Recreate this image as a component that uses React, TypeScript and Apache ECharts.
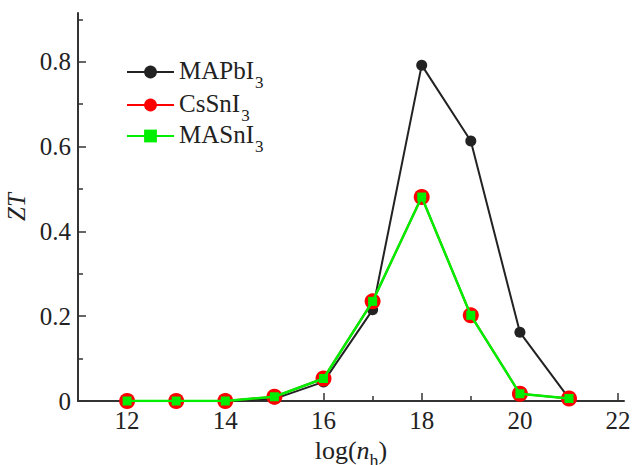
import React, { useEffect, useRef } from "react";
import * as echarts from "echarts";

const xValues = [12, 13, 14, 15, 16, 17, 18, 19, 20, 21];
const mapbi3 = [0, 0, 0, 0.005, 0.045, 0.215, 0.792, 0.613, 0.162, 0.006];
const cssni3 = [0, 0, 0, 0.01, 0.053, 0.235, 0.481, 0.202, 0.017, 0.006];
const masni3 = [0, 0, 0, 0.01, 0.053, 0.235, 0.481, 0.202, 0.017, 0.006];
const seriesNames = ["MAPbI3", "CsSnI3", "MASnI3"];
const legendLabels = ["{a|MAPbI}{s|3}", "{a|CsSnI}{s|3}", "{a|MASnI}{s|3}"];
const xMajorTicks = [12, 14, 16, 18, 20, 22];
const xMinorTicks = [13, 15, 17, 19, 21];
const yMajorTicks = [0, 0.2, 0.4, 0.6, 0.8];
const yMinorTicks = [0.1, 0.3, 0.5, 0.7, 0.9];

const FONT = "'Liberation Serif', 'Times New Roman', Times, serif";
const AXIS_COLOR = "#333";
const TEXT_COLOR = "#222";

export default function App() {
  const ref = useRef<HTMLDivElement>(null);
  useEffect(() => {
    const chart = echarts.init(ref.current!, null, { renderer: "svg" });
    const pair = (ys: number[]) => xValues.map((x, i) => [x, ys[i]]);
    const subRich = {
      a: { fontFamily: FONT, fontSize: 25, color: TEXT_COLOR, verticalAlign: "bottom", lineHeight: 22 },
      s: { fontFamily: FONT, fontSize: 17, color: TEXT_COLOR, verticalAlign: "bottom", lineHeight: 12, padding: [0, 0, -8, 1] },
    };
    const legendTops = [53, 86, 117];
    const legends = seriesNames.map((n, i) => ({
      orient: "vertical",
      left: 121,
      top: legendTops[i],
      itemWidth: 47,
      itemHeight: 16,
      itemGap: 0,
      formatter: () => legendLabels[i],
      textStyle: { rich: subRich },
      data: [n],
    }));
    const hiddenLine = { show: false };
    chart.setOption({
      animation: false,
      backgroundColor: "#fff",
      grid: { left: 78, right: 8, top: 13, bottom: 64, containLabel: false, outerBoundsMode: "none" },
      legend: legends,
      xAxis: [
        {
          type: "value",
          min: 11,
          max: 22.12,
          interval: 1,
          axisLine: { show: true, lineStyle: { color: AXIS_COLOR, width: 2 } },
          axisTick: { show: true, inside: true, length: 8, customValues: xMajorTicks, lineStyle: { color: AXIS_COLOR, width: 1.5 } },
          axisLabel: { customValues: xMajorTicks, fontFamily: FONT, fontSize: 25, color: TEXT_COLOR, margin: 7 },
          splitLine: { show: false },
          name: "{a|log(}{i|n}{s|h}{a|)}",
          nameLocation: "middle",
          nameGap: 31,
          nameTextStyle: {
            rich: {
              a: { fontFamily: FONT, fontSize: 26, color: TEXT_COLOR, verticalAlign: "bottom", lineHeight: 21 },
              i: { fontFamily: FONT, fontSize: 26, color: TEXT_COLOR, fontStyle: "italic", verticalAlign: "bottom", lineHeight: 21 },
              s: { fontFamily: FONT, fontSize: 18, color: TEXT_COLOR, verticalAlign: "bottom", lineHeight: 12, padding: [0, 0, -6, 0] },
            },
          },
        },
        {
          type: "value",
          min: 11,
          max: 22.12,
          interval: 1,
          position: "bottom",
          axisLine: hiddenLine,
          axisTick: { show: true, inside: true, length: 5, customValues: xMinorTicks, lineStyle: { color: AXIS_COLOR, width: 1.5 } },
          axisLabel: { show: false },
          splitLine: { show: false },
        },
      ],
      yAxis: [
        {
          type: "value",
          min: 0,
          max: 0.915,
          interval: 0.1,
          axisLine: { show: true, lineStyle: { color: AXIS_COLOR, width: 2 } },
          axisTick: { show: true, inside: true, length: 8, customValues: yMajorTicks, lineStyle: { color: AXIS_COLOR, width: 1.5 } },
          axisLabel: {
            customValues: yMajorTicks,
            fontFamily: FONT,
            fontSize: 25,
            color: TEXT_COLOR,
            margin: 7,
            formatter: (v: number) => (v === 0 ? "0" : v.toFixed(1)),
          },
          splitLine: { show: false },
          name: "ZT",
          nameLocation: "middle",
          nameGap: 40,
          nameRotate: 90,
          nameTextStyle: { fontFamily: FONT, fontSize: 25, fontStyle: "italic", color: TEXT_COLOR },
        },
        {
          type: "value",
          min: 0,
          max: 0.915,
          interval: 0.1,
          position: "left",
          axisLine: hiddenLine,
          axisTick: { show: true, inside: true, length: 5, customValues: yMinorTicks, lineStyle: { color: AXIS_COLOR, width: 1.5 } },
          axisLabel: { show: false },
          splitLine: { show: false },
        },
      ],
      series: [
        {
          name: seriesNames[0],
          type: "line",
          data: pair(mapbi3),
          symbol: "circle",
          symbolSize: 11,
          color: "#222",
          lineStyle: { color: "#222", width: 2 },
          itemStyle: { color: "#222" },
          z: 2,
        },
        {
          name: seriesNames[1],
          type: "line",
          data: pair(cssni3),
          symbol: "circle",
          symbolSize: 16,
          color: "#ff0000",
          lineStyle: { color: "#ff0000", width: 2 },
          itemStyle: { color: "#ff0000" },
          z: 3,
        },
        {
          name: seriesNames[2],
          type: "line",
          data: pair(masni3),
          symbol: "rect",
          symbolSize: 9,
          color: "#00ee00",
          lineStyle: { color: "#00ee00", width: 2.5 },
          itemStyle: { color: "#00ee00" },
          z: 4,
        },
      ],
    });
    return () => chart.dispose();
  }, []);
  return <div ref={ref} style={{ width: 632, height: 465, position: "absolute", left: 0, top: 0 }} />;
}
